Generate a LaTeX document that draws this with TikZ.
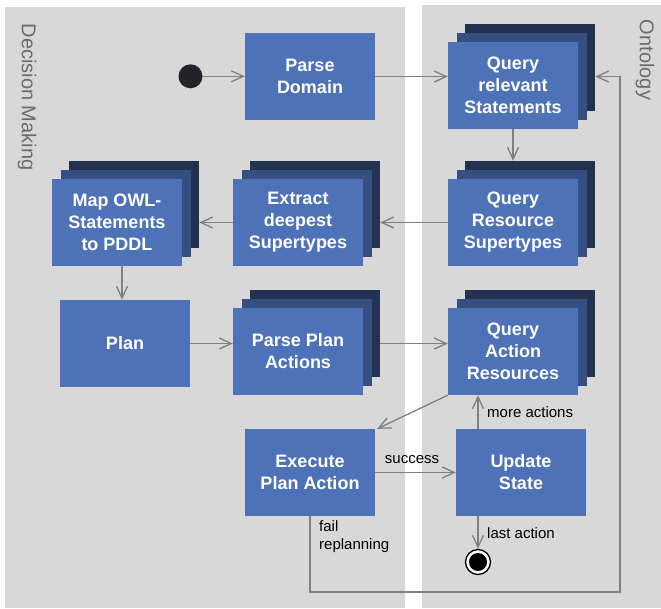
\documentclass[tikz,border=0pt]{standalone}
\usepackage{fontspec}
\setmainfont{Liberation Sans}
\usetikzlibrary{arrows.meta,shadows,calc}
\definecolor{boxblue}{HTML}{4E72B8}
\definecolor{boxmid}{HTML}{354F80}
\definecolor{boxback}{HTML}{243251}
\definecolor{lane}{HTML}{D8D8D8}
\definecolor{arr}{HTML}{808080}
\definecolor{lanetext}{HTML}{6B6B6B}
\definecolor{startc}{HTML}{212529}
\begin{document}
\begin{tikzpicture}[x=1pt,y=-1pt,
 act/.style={fill=boxblue, minimum width=130pt, minimum height=87pt, inner sep=0pt, text=white, font=\fontsize{18}{22}\selectfont\bfseries, align=center},
 stack/.style={act, general shadow={shadow xshift=17pt, shadow yshift=18pt, fill=boxback}, general shadow={shadow xshift=8.5pt, shadow yshift=9pt, fill=boxmid}},
 flow/.style={draw=arr, line width=1.3pt, -{Straight Barb[length=12pt,width=11pt]}},
 lbl/.style={font=\fontsize{15}{18}\selectfont, inner sep=0pt, align=left},
 lanelbl/.style={font=\fontsize{20}{24}\selectfont, text=lanetext, rotate=-90, inner sep=0pt}]
\useasboundingbox (0,0) rectangle (661,608);
\fill[lane] (5,7) rectangle (405,608);
\fill[lane] (422,5) rectangle (661,608);
\node[lanelbl] (dm) at (27,97) {Decision Making};
\node[lanelbl] (onto) at (645,60) {Ontology};

\node[circle, fill=startc, minimum size=24pt, inner sep=0pt] (start) at (190.5,76.3) {};
\node[act] (pd) at (310,76.5) {Parse\\Domain};
\node[stack] (qrs) at (513,85.5) {Query\\relevant\\Statements};
\node[stack] (qsup) at (513,222.5) {Query\\Resource\\Supertypes};
\node[stack] (ext) at (298,222.5) {Extract\\deepest\\Supertypes};
\node[stack] (map) at (117,222.5) {Map OWL-\\Statements\\to PDDL};
\node[act] (plan) at (125,343.5) {Plan};
\node[stack] (ppa) at (298,351.5) {Parse Plan\\Actions};
\node[stack] (qar) at (513,351.5) {Query\\Action\\Resources};
\node[act] (exe) at (310,472.5) {Execute\\Plan Action};
\node[act] (upd) at (521,472.5) {Update\\State};
\node[circle, draw=black, line width=1.3pt, fill=white, minimum size=25pt, inner sep=0pt] (fin) at (478,562) {};
\node[circle, fill=black, minimum size=18pt, inner sep=0pt] (finin) at (fin.center) {};

\coordinate (ux) at (478,0);
\coordinate (mx) at (122,0);
\coordinate (rt) at (620,592);

\draw[flow] (start.east) -- (start -| pd.west);
\draw[flow] (pd.east) -- (pd.east -| qrs.west);
\draw[flow] (qrs.south) -- ($(qsup.north)+(0,-18)$);
\draw[flow] (qsup.west) -- ($(ext.east)+(17,0)$);
\draw[flow] (ext.west) -- ($(map.east)+(17,0)$);
\draw[flow] (map.south -| mx) -- (plan.north -| mx);
\draw[flow] (plan.east) -- (plan.east -| ppa.west);
\draw[flow] ($(ppa.east)+(17,-8)$) -- ($(qar.west)+(0,-8)$);
\draw[flow] (qar.south west) -- ($(exe.north east)+(2,0)$);
\draw[flow] (exe.east) -- (upd.west);
\draw[flow] (upd.north -| ux) -- (qar.south -| ux);
\draw[flow] (upd.south -| ux) -- (fin.north);
\draw[flow] (exe.south) |- (rt) |- ($(qrs.east)+(17,-9)$);

\node[lbl] (succ) at (412,460) {success};
\node[lbl, anchor=west] (more) at (487,412) {more actions};
\node[lbl, anchor=west] (last) at (487,533) {last action};
\node[lbl, anchor=west] (fail) at (319,537) {fail\\replanning};
\end{tikzpicture}
\end{document}
